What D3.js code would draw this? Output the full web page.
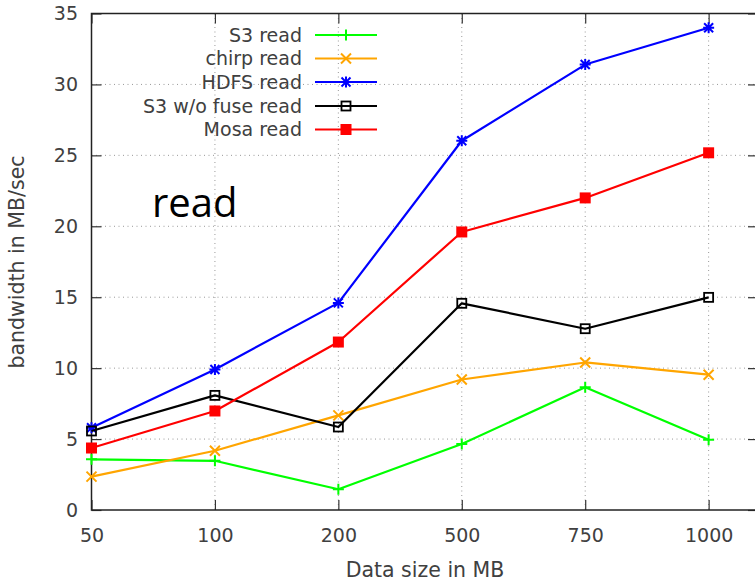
<!DOCTYPE html>
<html>
<head>
<meta charset="utf-8">
<script src="https://cdn.jsdelivr.net/npm/d3@7"></script>
<style>
html,body{margin:0;padding:0;background:#fff;}
svg{display:block;}
</style>
</head>
<body>
<svg id="chart" width="755" height="583"></svg>
<script>
const categories = ["50","100","200","500","750","1000"];
const yTicks = [0,5,10,15,20,25,30,35];
const s3Read = [3.57, 3.47, 1.46, 4.65, 8.65, 4.95];
const chirpRead = [2.35, 4.18, 6.67, 9.2, 10.4, 9.54];
const hdfsRead = [5.8, 9.91, 14.6, 26.03, 31.4, 34.0];
const s3NoFuseRead = [5.57, 8.08, 5.85, 14.57, 12.78, 14.99];
const mosaRead = [4.37, 6.98, 11.84, 19.6, 22.0, 25.18];
const seriesNames = ["S3 read","chirp read","HDFS read","S3 w/o fuse read","Mosa read"];
const seriesColors = ["#00ff00","#ffa500","#0000ff","#000000","#ff0000"];
const seriesMarkers = ["plus","cross","star","openSquare","filledSquare"];
const seriesValues = [s3Read, chirpRead, hdfsRead, s3NoFuseRead, mosaRead];

const svg = d3.select("#chart");
const L = 91.5, R = 758, T = 13.5, B = 510;
const x = d3.scaleLinear().domain([0, 5.4]).range([L, R]);
const y = d3.scaleLinear().domain([0, 35]).range([B, T]);
const axisFont = "DejaVu Sans, Verdana, sans-serif";
const textColor = "#404040";

// grid
const grid = svg.append("g");
yTicks.filter(v => v > 0 && v < 35).forEach(v => {
  grid.append("line").attr("x1", L).attr("x2", R).attr("y1", y(v)).attr("y2", y(v))
    .attr("stroke", "#999").attr("stroke-width", 1).attr("stroke-dasharray", "1,3.5");
});
categories.forEach((c, i) => {
  if (i === 0) return;
  grid.append("line").attr("x1", x(i)).attr("x2", x(i)).attr("y1", T).attr("y2", B)
    .attr("stroke", "#999").attr("stroke-width", 1).attr("stroke-dasharray", "1,3.5");
});

// axes
const tickLen = 10;
const yAxisL = d3.axisLeft(y).tickValues(yTicks).tickSizeInner(-tickLen).tickSizeOuter(0).tickPadding(13.5);
const yAxisR = d3.axisRight(y).tickValues(yTicks).tickSizeInner(-tickLen).tickSizeOuter(0).tickFormat("");
const xAxisB = d3.axisBottom(x).tickValues(d3.range(categories.length)).tickFormat(i => categories[i])
  .tickSizeInner(-tickLen).tickSizeOuter(0).tickPadding(18.5);
const xAxisT = d3.axisTop(x).tickValues(d3.range(categories.length)).tickFormat("")
  .tickSizeInner(-tickLen).tickSizeOuter(0);

function styleAxis(g) {
  g.select(".domain").remove();
  g.selectAll(".tick line").attr("stroke", "#333").attr("stroke-width", 1.2);
  g.selectAll(".tick text").attr("fill", textColor).style("font-family", axisFont).style("font-size", "19px");
}
svg.append("g").attr("transform", `translate(${L},0)`).call(yAxisL).call(styleAxis);
svg.append("g").attr("transform", `translate(${R},0)`).call(yAxisR).call(styleAxis);
svg.append("g").attr("transform", `translate(0,${B})`).call(xAxisB).call(styleAxis);
svg.append("g").attr("transform", `translate(0,${T})`).call(xAxisT).call(styleAxis);

// border
svg.append("rect").attr("x", L).attr("y", T).attr("width", R - L).attr("height", B - T)
  .attr("fill", "none").attr("stroke", "#222").attr("stroke-width", 1.5);

// axis labels
svg.append("text").attr("x", 425).attr("y", 577).attr("text-anchor", "middle")
  .attr("fill", textColor).style("font-family", axisFont).style("font-size", "20.5px").text("Data size in MB");
svg.append("text").attr("transform", "translate(24,262) rotate(-90)").attr("text-anchor", "middle")
  .attr("fill", textColor).style("font-family", axisFont).style("font-size", "20.5px").text("bandwidth in MB/sec");

// "read" annotation
svg.append("text").attr("x", 152).attr("y", 217).attr("fill", "#000")
  .style("font-family", "Open Sans, sans-serif").style("font-size", "40px").text("read");

// marker drawing
function drawMarker(g, type, cx, cy, color) {
  const s = 5.5;
  if (type === "plus") {
    g.append("path").attr("d", `M${cx - s},${cy}H${cx + s}M${cx},${cy - s}V${cy + s}`)
      .attr("stroke", color).attr("stroke-width", 2).attr("fill", "none");
  } else if (type === "cross") {
    const t = 5;
    g.append("path").attr("d", `M${cx - t},${cy - t}L${cx + t},${cy + t}M${cx - t},${cy + t}L${cx + t},${cy - t}`)
      .attr("stroke", color).attr("stroke-width", 2).attr("fill", "none");
  } else if (type === "star") {
    const t = 4.5;
    g.append("path").attr("d", `M${cx - s},${cy}H${cx + s}M${cx},${cy - s}V${cy + s}M${cx - t},${cy - t}L${cx + t},${cy + t}M${cx - t},${cy + t}L${cx + t},${cy - t}`)
      .attr("stroke", color).attr("stroke-width", 2).attr("fill", "none");
  } else if (type === "openSquare") {
    g.append("rect").attr("x", cx - 4.5).attr("y", cy - 4.5).attr("width", 9).attr("height", 9)
      .attr("stroke", color).attr("stroke-width", 1.8).attr("fill", "none");
  } else if (type === "filledSquare") {
    g.append("rect").attr("x", cx - 5.5).attr("y", cy - 5.5).attr("width", 11).attr("height", 11)
      .attr("fill", color);
  }
}

// series
const line = d3.line().x((d, i) => x(i)).y(d => y(d));
seriesValues.forEach((vals, k) => {
  const g = svg.append("g");
  g.append("path").datum(vals).attr("d", line).attr("fill", "none")
    .attr("stroke", seriesColors[k]).attr("stroke-width", 2.2).attr("stroke-linejoin", "round");
  vals.forEach((v, i) => drawMarker(g, seriesMarkers[k], x(i), y(v), seriesColors[k]));
});

// legend
const legendRowsY = [35, 58.5, 82, 106, 129.5];
seriesNames.forEach((name, k) => {
  const ly = legendRowsY[k];
  svg.append("text").attr("x", 302).attr("y", ly).attr("dy", "0.36em").attr("text-anchor", "end")
    .attr("fill", textColor).style("font-family", axisFont).style("font-size", "19px").text(name);
  const g = svg.append("g");
  g.append("line").attr("x1", 315).attr("x2", 377).attr("y1", ly).attr("y2", ly)
    .attr("stroke", seriesColors[k]).attr("stroke-width", 2.2);
  drawMarker(g, seriesMarkers[k], 346, ly, seriesColors[k]);
});
</script>
</body>
</html>
